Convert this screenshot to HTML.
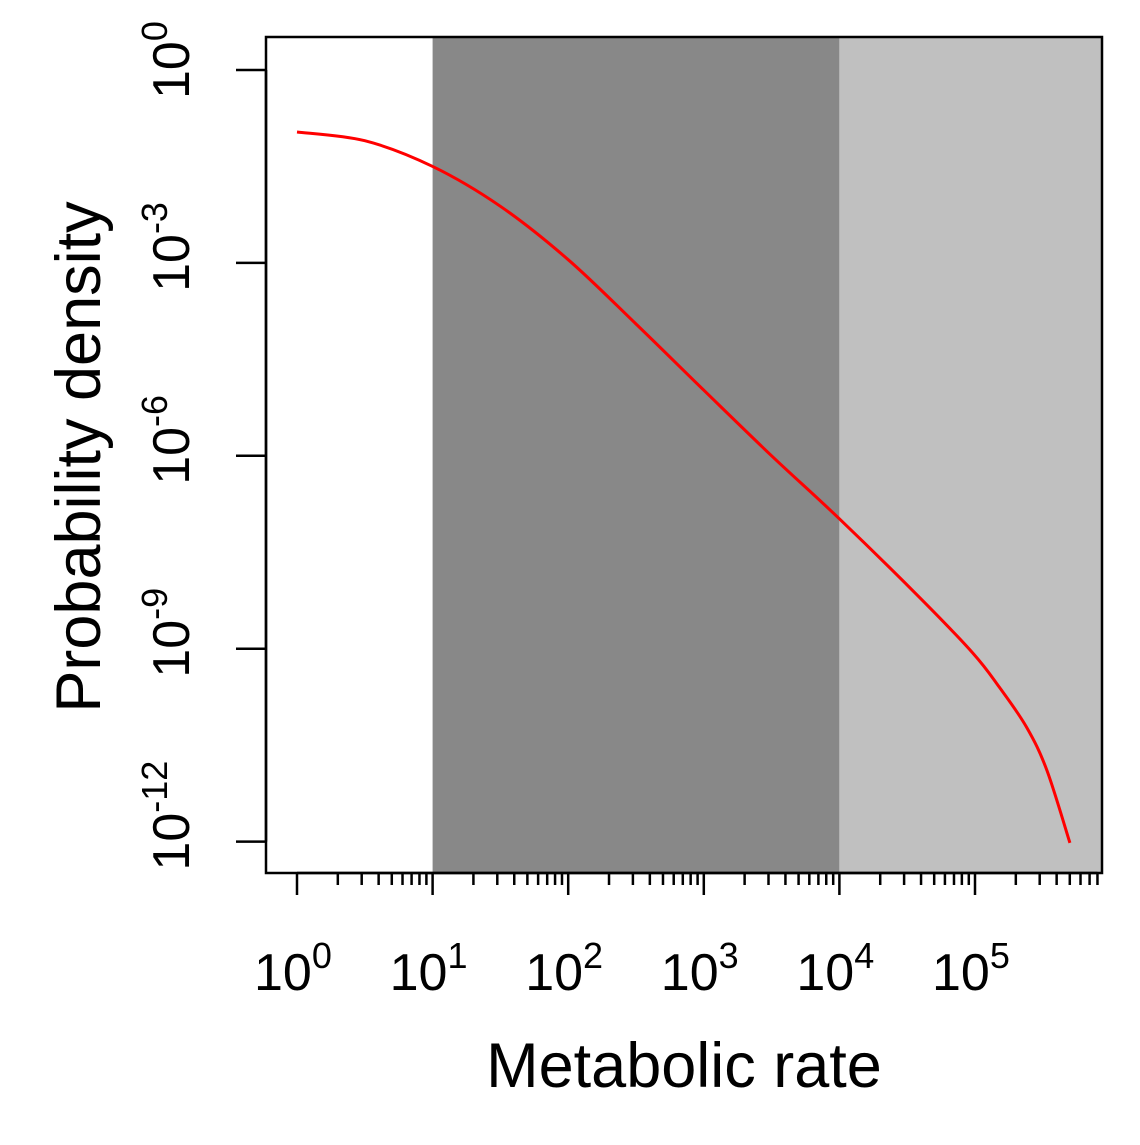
<!DOCTYPE html>
<html><head><meta charset="utf-8"><style>
body{margin:0;background:#fff}
svg text{font-family:"Liberation Sans",Arial,sans-serif;fill:#000}
</style></head><body>
<svg id="chart" width="1140" height="1140" xmlns="http://www.w3.org/2000/svg"></svg>
<script>
// data (log10 values)
const curveLogX = [0, 0.5, 1, 1.5, 2, 2.5, 3, 3.5, 4.0, 4.59, 4.985, 5.18, 5.38, 5.53, 5.70];
const curveLogY = [-0.964, -1.1, -1.5, -2.12, -2.95, -3.95, -4.98, -6.0, -6.98, -8.2, -9.07, -9.6, -10.22, -10.89, -12.02];
const xTickExps = [0, 1, 2, 3, 4, 5];
const yTickExps = [0, -3, -6, -9, -12];
const regionBounds = [1, 4]; // log10 bounds of shaded regions

const NS = "http://www.w3.org/2000/svg";
const svg = document.getElementById('chart');
const L = 266, R = 1102, T = 37, B = 873;
const xs = v => 297 + v * 135.6;
const ys = v => 70 - v * 64.3;
function mk(tag, attrs, parent) {
  const e = document.createElementNS(NS, tag);
  for (const k in attrs) e.setAttribute(k, attrs[k]);
  (parent || svg).appendChild(e);
  return e;
}
let r1 = mk('rect', {x: xs(regionBounds[0]), y: T, width: xs(regionBounds[1]) - xs(regionBounds[0]), height: B - T, fill: '#888888'});


let r2 = mk('rect', {x: xs(regionBounds[1]), y: T, width: R - xs(regionBounds[1]), height: B - T, fill: '#c0c0c0'});


const P = curveLogX.map((v, i) => [xs(v), ys(curveLogY[i])]);
let d = 'M' + P[0][0] + ',' + P[0][1];
for (let i = 0; i < P.length - 1; i++) {
  const p0 = P[Math.max(0, i - 1)], p1 = P[i], p2 = P[i + 1], p3 = P[Math.min(P.length - 1, i + 2)];
  const c1 = [p1[0] + (p2[0] - p0[0]) / 6, p1[1] + (p2[1] - p0[1]) / 6];
  const c2 = [p2[0] - (p3[0] - p1[0]) / 6, p2[1] - (p3[1] - p1[1]) / 6];
  d += ' C' + c1.join(',') + ' ' + c2.join(',') + ' ' + p2.join(',');
}
let path = mk('path', {d: d, fill: 'none', stroke: '#ff0000', 'stroke-width': 3, 'stroke-linejoin': 'round'});


let box = mk('rect', {x: L, y: T, width: R - L, height: B - T, fill: 'none', stroke: '#000', 'stroke-width': 2.5});


for (let e = 0; e <= 5; e++) {
  for (let m = 1; m <= 9; m++) {
    const px = xs(e + Math.log10(m));
    if (px > R) continue;
    const len = m === 1 ? 22 : 12;
    let t = mk('line', {x1: px, x2: px, y1: B, y2: B + len, stroke: '#000', 'stroke-width': 2.5});
    
    
  }
}
let xl = mk('line', {x1: xs(0), x2: xs(5 + Math.log10(8)), y1: B, y2: B, stroke: '#000', 'stroke-width': 2.5});


xTickExps.forEach(e => {
  let t = mk('text', {x: xs(e) - 43, y: 990, 'font-size': 52});
  
  
  t.innerHTML = '10<tspan dy="-22" font-size="36">' + e + '</tspan>';
});
let yl = mk('line', {x1: L, x2: L, y1: ys(0), y2: ys(-12), stroke: '#000', 'stroke-width': 2.5});


yTickExps.forEach(e => {
  let t = mk('line', {x1: L - 30, x2: L, y1: ys(e), y2: ys(e), stroke: '#000', 'stroke-width': 2.5});
  
  
  let lb = mk('text', {x: 0, y: 0, 'font-size': 52, transform: 'translate(189,' + (ys(e) + 29) + ') rotate(-90)'});
  
  
  lb.innerHTML = '10<tspan dy="-22" font-size="36">' + e + '</tspan>';
});
let xt = mk('text', {x: 684, y: 1087, 'font-size': 63, 'text-anchor': 'middle'});


xt.textContent = 'Metabolic rate';
let yt = mk('text', {x: 0, y: 0, 'font-size': 63, 'text-anchor': 'middle', transform: 'translate(100,457) rotate(-90)'});


yt.textContent = 'Probability density';
</script>
</body></html>
